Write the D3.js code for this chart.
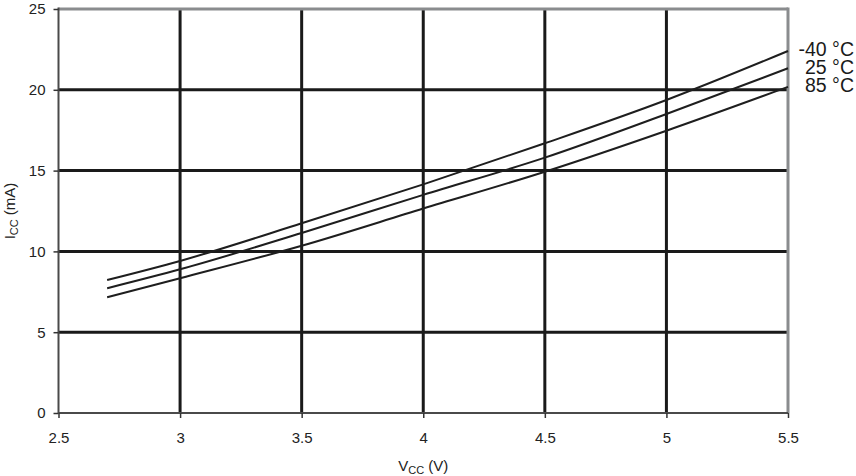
<!DOCTYPE html>
<html><head><meta charset="utf-8">
<script src="https://cdn.jsdelivr.net/npm/d3@7"></script>
<style>body{margin:0;background:#fff}svg{display:block;font-family:"Liberation Sans",Arial,sans-serif}</style>
</head><body><svg id="c" width="856" height="476"></svg>
<script>
const vcc = [2.7, 3.0, 3.5, 4.0, 4.5, 5.0, 5.5];
const iccM40 = [8.23, 9.41, 11.74, 14.15, 16.69, 19.37, 22.4];
const icc25 = [7.72, 8.89, 11.14, 13.5, 15.8, 18.5, 21.33];
const icc85 = [7.16, 8.34, 10.35, 12.65, 14.93, 17.47, 20.18];
const seriesLabels = ["-40 °C", "25 °C", "85 °C"];
const xTicks = [2.5, 3, 3.5, 4, 4.5, 5, 5.5];
const yTicks = [0, 5, 10, 15, 20, 25];

const svg = d3.select("#c");
const x = d3.scaleLinear().domain([2.5, 5.5]).range([58.5, 788]);
const y = d3.scaleLinear().domain([0, 25]).range([413, 9]);

// grid
const g = svg.append("g");
g.selectAll(".vg").data(xTicks.filter(d => d > 2.5 && d < 5.5)).join("line")
  .attr("x1", d => x(d)).attr("x2", d => x(d)).attr("y1", y(0)).attr("y2", y(25))
  .attr("stroke", "#1a1a1a").attr("stroke-width", 3);
g.selectAll(".hg").data(yTicks.filter(d => d > 0 && d < 25)).join("line")
  .attr("x1", x(2.5)).attr("x2", x(5.5)).attr("y1", d => y(d)).attr("y2", d => y(d))
  .attr("stroke", "#1a1a1a").attr("stroke-width", 3);
// top & right border
svg.append("line").attr("x1", x(2.5)).attr("x2", x(5.5)).attr("y1", y(25)).attr("y2", y(25))
  .attr("stroke", "#8a8c8e").attr("stroke-width", 3);
svg.append("line").attr("x1", x(5.5)).attr("x2", x(5.5)).attr("y1", y(25)-1.5).attr("y2", y(0))
  .attr("stroke", "#8a8c8e").attr("stroke-width", 3);

// axes
const xAxis = svg.append("g").attr("transform", `translate(0,${y(0)})`)
  .call(d3.axisBottom(x).tickValues(xTicks).tickSize(5).tickPadding(14).tickFormat(d3.format("")));
const yAxis = svg.append("g").attr("transform", `translate(${x(2.5)},0)`)
  .call(d3.axisLeft(y).tickValues(yTicks).tickSize(5).tickPadding(8));
[xAxis, yAxis].forEach(a => {
  a.select(".domain").attr("stroke", "#4a4a4a").attr("stroke-width", 2);
  a.selectAll(".tick line").attr("stroke", "#333").attr("stroke-width", 1.5);
  a.selectAll("text").attr("font-size", 15).attr("fill", "#222").attr("font-family", "Liberation Sans, Arial, sans-serif");
});
xAxis.select(".domain").attr("d", `M${x(2.5)},0H${x(5.5)}`);
yAxis.select(".domain").attr("d", `M0,${y(0)}V${y(25)-1.5}`);

// lines
const series = [iccM40, icc25, icc85];
const line = d3.line().x((d, i) => x(vcc[i])).y(d => y(d)).curve(d3.curveMonotoneX);
svg.append("g").selectAll("path").data(series).join("path")
  .attr("d", line).attr("fill", "none").attr("stroke", "#1e1e1e").attr("stroke-width", 2);

// labels
const labelY = [56, 74, 92];
svg.append("g").selectAll("text").data(seriesLabels).join("text")
  .attr("x", 854).attr("y", (d, i) => labelY[i]).attr("text-anchor", "end")
  .attr("font-size", 19.5).attr("fill", "#1a1a1a").text(d => d);

// axis titles
const xt = svg.append("text").attr("x", x(4)).attr("y", 471).attr("text-anchor", "middle")
  .attr("font-size", 15).attr("fill", "#222");
xt.append("tspan").text("V");
xt.append("tspan").attr("font-size", 11).attr("dy", 3).text("CC");
xt.append("tspan").attr("dy", -3).text(" (V)");

const yt = svg.append("text").attr("transform", `translate(15,${y(12.5)}) rotate(-90)`)
  .attr("text-anchor", "middle").attr("font-size", 15).attr("fill", "#222");
yt.append("tspan").text("I");
yt.append("tspan").attr("font-size", 11).attr("dy", 3).text("CC");
yt.append("tspan").attr("dy", -3).text(" (mA)");
</script></body></html>
